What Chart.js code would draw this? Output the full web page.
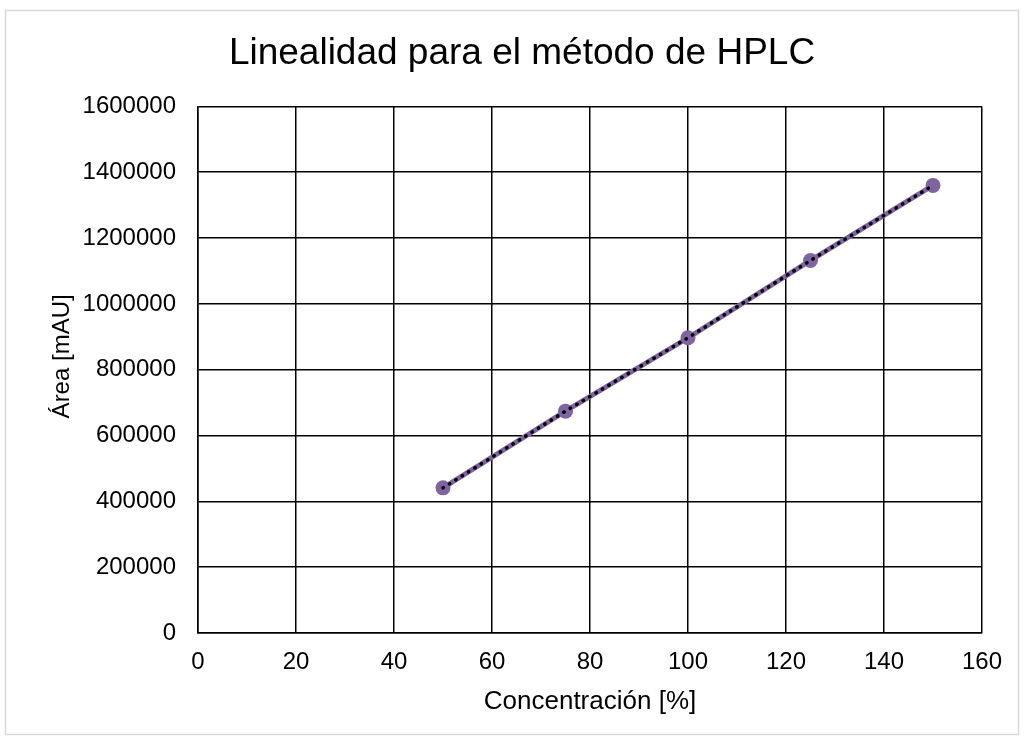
<!DOCTYPE html>
<html lang="es">
<head>
  <meta charset="UTF-8" />
  <title>Linealidad HPLC</title>
  <script src="https://cdn.jsdelivr.net/npm/chart.js"></script>
  <style>
    body { margin: 0; background: #fff; }
    canvas { display: block; }
  </style>
</head>
<body>
  <canvas id="hplcChart" width="1024" height="740"></canvas>

<script>
  // valores
  const concentracion = [50, 75, 100, 125, 150];
  const area = [441000, 674000, 897000, 1132000, 1360000];

  const xTicks = [0, 20, 40, 60, 80, 100, 120, 140, 160];
  const yTicks = [0, 200000, 400000, 600000, 800000, 1000000, 1200000, 1400000, 1600000];

  const fontFamily = "'Liberation Sans', Arial, sans-serif";
  const purple = '#8064a2';

  const puntos = concentracion.map((c, i) => ({ x: c, y: area[i] }));

  // marco gris alrededor de todo el gráfico + título un poco a la derecha
  const outerBorder = {
    id: 'outerBorder',
    afterLayout(chart) {
      if (chart.titleBlock) {
        chart.titleBlock.left += 31;
        chart.titleBlock.right += 31;
      }
    },
    beforeDraw(chart) {
      const ctx = chart.ctx;
      ctx.save();
      ctx.fillStyle = '#fff';
      ctx.fillRect(0, 0, chart.width, chart.height);
      ctx.strokeStyle = '#d9d9d9';
      ctx.lineWidth = 1.5;
      ctx.strokeRect(5.5, 10.5, 1013, 724);
      ctx.restore();
    }
  };

  new Chart(document.getElementById('hplcChart'), {
    type: 'scatter',
    data: {
      datasets: [
        {
          label: 'Área',
          data: puntos,
          order: 1,
          showLine: true,
          borderColor: purple,
          backgroundColor: purple,
          borderWidth: 5,
          pointRadius: 7.5,
          pointBorderWidth: 0,
          pointHoverRadius: 7.5
        },
        {
          label: 'Lineal (Área)',
          data: puntos,
          order: 0,
          showLine: true,
          borderColor: '#000',
          borderWidth: 3.5,
          borderDash: [0.5, 7],
          borderCapStyle: 'round',
          pointRadius: 0
        }
      ]
    },
    options: {
      responsive: false,
      animation: false,
      layout: { padding: { left: 0, right: 42, top: 0, bottom: 0 } },
      plugins: {
        legend: { display: false },
        tooltip: { enabled: false },
        title: {
          display: true,
          text: 'Linealidad para el método de HPLC',
          color: '#000',
          font: { family: fontFamily, size: 37, weight: 'normal' },
          padding: { top: 32, bottom: 30 }
        }
      },
      scales: {
        x: {
          type: 'linear',
          min: 0,
          max: 160,
          afterBuildTicks: axis => { axis.ticks = xTicks.map(v => ({ value: v })); },
          afterFit: axis => { axis.height = 107; },
          grid: { color: '#000', lineWidth: 1.5, drawTicks: false },
          border: { color: '#000', width: 1.5 },
          ticks: {
            color: '#000',
            padding: 15,
            font: { family: fontFamily, size: 24 }
          },
          title: {
            display: true,
            text: 'Concentración [%]',
            color: '#000',
            font: { family: fontFamily, size: 26 },
            padding: { top: 0, bottom: 23 }
          }
        },
        y: {
          type: 'linear',
          min: 0,
          max: 1600000,
          afterBuildTicks: axis => { axis.ticks = yTicks.map(v => ({ value: v })); },
          afterFit: axis => { axis.width = 198; },
          grid: { color: '#000', lineWidth: 1.5, drawTicks: false },
          border: { color: '#000', width: 1.5 },
          ticks: {
            color: '#000',
            padding: 22,
            font: { family: fontFamily, size: 24 },
            callback: v => String(v)
          },
          title: {
            display: true,
            text: '    Área [mAU]',
            color: '#000',
            font: { family: fontFamily, size: 24 },
            padding: { top: 48, bottom: 0 }
          }
        }
      }
    },
    plugins: [outerBorder]
  });
</script>
</body>
</html>
